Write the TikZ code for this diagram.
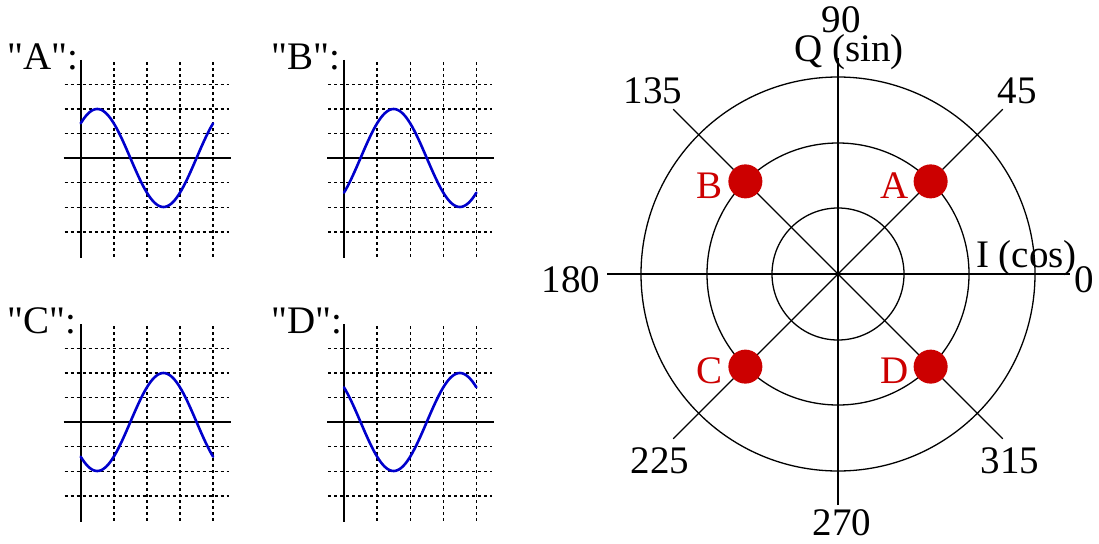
\documentclass[tikz,border=0pt]{standalone}
\usepackage{fontspec}
\setmainfont{Liberation Serif}[Ligatures=TeXOff]
\usetikzlibrary{calc}
\definecolor{waveblue}{RGB}{0, 0, 204}
\definecolor{dotclr}{RGB}{204, 0, 0}
\tikzset{
  % Panjara va o'qlar
  gridline/.style  = {line width=1.4pt, black, dash pattern=on 3pt off 3pt},
  axisline/.style  = {line width=1.7pt, black},
  % To'lqin chizig'i
  waveline/.style  = {line width=2.6pt, waveblue, line cap=round, line join=round},
  % Qutb diagrammasi
  polarline/.style = {line width=1.3pt, black},
  dotpt/.style     = {circle, fill=dotclr, inner sep=0pt, minimum size=34pt},
  % Etiketlar
  lab/.style       = {font=\fontsize{39}{42}\selectfont, inner sep=0pt},
  redlab/.style    = {lab, text=dotclr},
}
\begin{document}
\begin{tikzpicture}[x=1pt, y=-1pt]
  \useasboundingbox (0,0) rectangle (1099,543);
  % To'rtta to'lqin grafigi
  \foreach \gx/\gy/\gname/\gph in {80.7/158/A/45, 344/158/B/135, 80.7/422/C/225, 344/422/D/315} {
    \begin{scope}[shift={(\gx,\gy)}]
      \foreach \i in {1,...,4}
        \draw[gridline] (\i*33.1,-96) -- (\i*33.1,100);
      \foreach \j in {-3,-2,-1,1,2,3}
        \draw[gridline] (-16,\j*24.6) -- (148,\j*24.6);
      \draw[axisline] (-17,0) -- (150,0);
      \draw[axisline] (0,-98) -- (0,100);
      \draw[waveline] plot[domain=0:360, samples=73] ({\x/360*132.4}, {-49*cos(\x-\gph)});
      \node[lab, anchor=base west] (glab\gname) at (-73,-89) {"\gname":};
    \end{scope}
  }
  % Qutb diagrammasi (I/Q tekisligi)
  \begin{scope}[shift={(838,274)}, yscale=-1]
    \draw[polarline] (0,0) circle (66);
    \draw[polarline] (0,0) circle (131);
    \draw[polarline] (0,0) circle (197);
    \draw[polarline] (-231,0) -- (232,0);
    \draw[polarline] (0,-231) -- (0,216);
    \foreach \a in {45,135,225,315}
      \draw[polarline] (0,0) -- (\a:233);
    \foreach \a/\n in {45/A, 135/B, 225/C, 315/D}
      \node[dotpt] (dot\n) at (\a:131) {};
  \end{scope}
  \foreach \n in {A,B,C,D}
    \node[redlab] (lab\n) at ($(dot\n)+(-36,4)$) {\n};
  % Burchak etiketlari
  \node[lab, anchor=base] (ang90)  at (841,33)   {90};
  \node[lab, anchor=base west] (qlab) at (794,62) {Q (sin)};
  \node[lab, anchor=base west] (ilab) at (976,267) {I (cos)};
  \node[lab, anchor=base] (ang0)   at (1084,292) {0};
  \node[lab, anchor=base] (ang180) at (571,292)  {180};
  \node[lab, anchor=base] (ang270) at (842,535)  {270};
  \node[lab, anchor=base] (ang135) at (653,103)  {135};
  \node[lab, anchor=base] (ang45)  at (1017,103) {45};
  \node[lab, anchor=base] (ang225) at (660,473)  {225};
  \node[lab, anchor=base] (ang315) at (1010,473) {315};
\end{tikzpicture}
\end{document}
